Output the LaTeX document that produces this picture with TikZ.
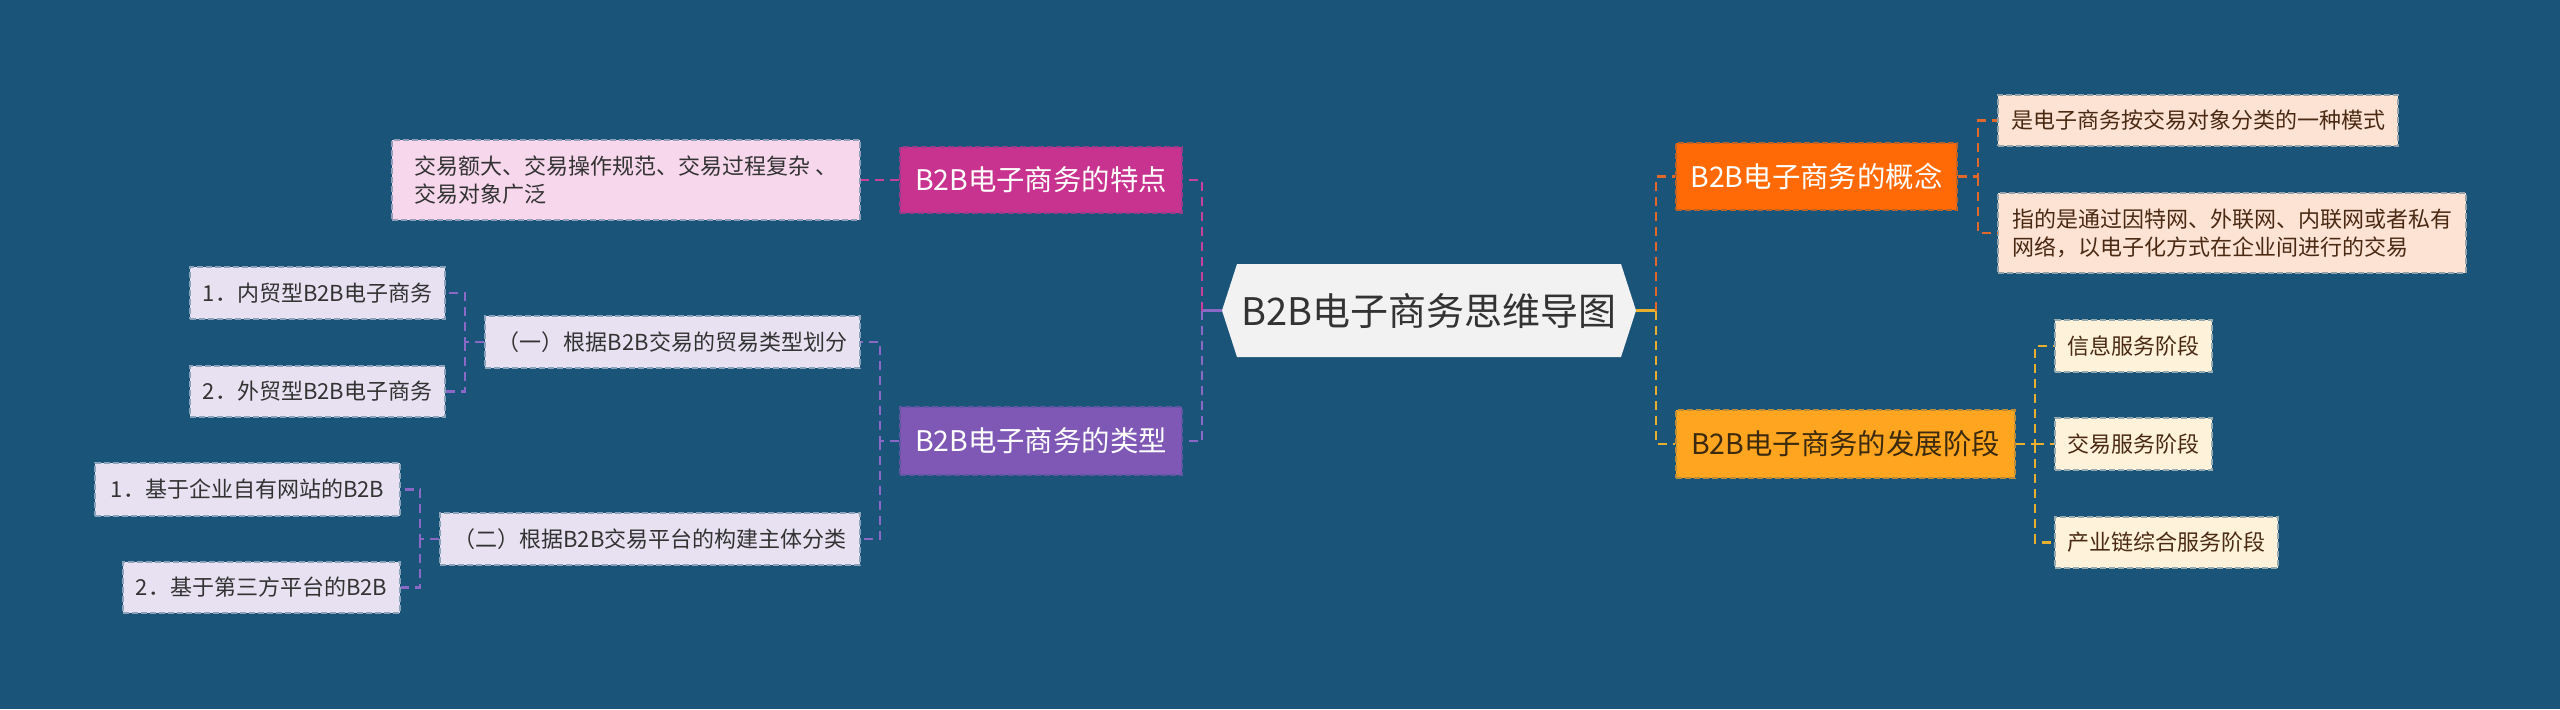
\documentclass[tikz,border=0pt]{standalone}
\usepackage{fontspec}
\newfontfamily\cjk{Noto Sans CJK SC}
\usetikzlibrary{calc}
\definecolor{bg}{HTML}{1A5479}
\definecolor{rootfill}{HTML}{F2F2F2}
\definecolor{roottext}{HTML}{333333}
\definecolor{conceptfill}{HTML}{FF6A06}
\definecolor{devfill}{HTML}{FFA51F}
\definecolor{featfill}{HTML}{C8338F}
\definecolor{typefill}{HTML}{7F57B5}
\definecolor{cleaf}{HTML}{FDE3D3}
\definecolor{dleaf}{HTML}{FEF2DA}
\definecolor{fleaf}{HTML}{F6D7EC}
\definecolor{tleaf}{HTML}{E7E1F1}
\definecolor{lineO}{HTML}{E0692A}
\definecolor{lineY}{HTML}{E8AE2E}
\definecolor{lineM}{HTML}{C8409A}
\definecolor{lineP}{HTML}{8A68C6}
\definecolor{brownT}{HTML}{4A2A14}
\definecolor{devT}{HTML}{3B2A0E}
\tikzset{
  boxbase/.style={rectangle, inner sep=0pt, align=left, line width=0.6pt, dash pattern=on 3pt off 1.5pt},
  mainbox/.style={boxbase, font=\cjk\fontsize{14.2pt}{17pt}\selectfont},
  leafbox/.style={boxbase, font=\cjk\fontsize{11pt}{14pt}\selectfont},
  conceptbox/.style={mainbox, fill=conceptfill, draw=conceptfill!70!bg, text=white},
  devbox/.style={mainbox, fill=devfill, draw=devfill!70!bg, text=devT},
  featbox/.style={mainbox, fill=featfill, draw=featfill!70!bg, text=white},
  typebox/.style={mainbox, fill=typefill, draw=typefill!70!bg, text=white},
  cleafbox/.style={leafbox, fill=cleaf, draw=cleaf!55!bg, text=brownT},
  dleafbox/.style={leafbox, fill=dleaf, draw=dleaf!55!bg, text=brownT},
  fleafbox/.style={leafbox, fill=fleaf, draw=fleaf!55!bg, text=roottext},
  tleafbox/.style={leafbox, fill=tleaf, draw=tleaf!55!bg, text=roottext},
  conn/.style={line width=1.4pt, dash pattern=on 4.5pt off 3pt},
  connO/.style={conn, draw=lineO},
  connY/.style={conn, draw=lineY},
  connM/.style={conn, draw=lineM},
  connP/.style={conn, draw=lineP},
  tick/.style={line width=1.4pt, solid}
}
\begin{document}
\begin{tikzpicture}[x=0.5pt,y=-0.5pt]
\fill[bg] (0,0) rectangle (2560,709);
\useasboundingbox (0,0) rectangle (2560,709);

% central node
\fill[rootfill] (1237,264) -- (1621,264) -- (1636,310.5) -- (1621,357) -- (1237,357) -- (1222,310.5) -- cycle;
\node[inner sep=0pt, minimum width=192pt, minimum height=46.5pt, text=roottext, font=\cjk\fontsize{19pt}{22pt}\selectfont] (root) at (1429,310.5) {B2B电子商务思维导图};
\coordinate (rootL) at (1222,310.5);
\coordinate (rootR) at (1636,310.5);
\coordinate (trL) at (1202,310.5);
\coordinate (trR) at (1656,310.5);

% right side
\node[conceptbox, minimum width=140.5pt, minimum height=33.5pt] (concept) at (1816.5,176.5) {B2B电子商务的概念};
\node[devbox, minimum width=169.5pt, minimum height=34pt] (dev) at (1845.5,444) {B2B电子商务的发展阶段};
\node[cleafbox, minimum width=200pt, minimum height=25.5pt] (c1) at (2198,120.5) {是电子商务按交易对象分类的一种模式};
\node[cleafbox, minimum width=234pt, minimum height=40pt] (c2) at (2232,233) {指的是通过因特网、外联网、内联网或者私有\\网络，以电子化方式在企业间进行的交易};
\node[dleafbox, minimum width=78.5pt, minimum height=26pt] (d1) at (2133.5,346) {信息服务阶段};
\node[dleafbox, minimum width=78.5pt, minimum height=26pt] (d2) at (2133.5,444) {交易服务阶段};
\node[dleafbox, minimum width=111.5pt, minimum height=25.5pt] (d3) at (2166.5,542.5) {产业链综合服务阶段};

% left side
\node[featbox, minimum width=141pt, minimum height=33pt] (feat) at (1041,180) {B2B电子商务的特点};
\node[typebox, minimum width=141pt, minimum height=34pt] (types) at (1041,441) {B2B电子商务的类型};
\node[fleafbox, minimum width=234pt, minimum height=40pt] (f1) at (626,180) {交易额大、交易操作规范、交易过程复杂 、\\交易对象广泛};
\node[tleafbox, minimum width=187.5pt, minimum height=26pt] (t1) at (672.5,342) {（一）根据B2B交易的贸易类型划分};
\node[tleafbox, minimum width=210pt, minimum height=26pt] (t2) at (650,539) {（二）根据B2B交易平台的构建主体分类};
\node[tleafbox, minimum width=127.5pt, minimum height=26pt] (t11) at (317.5,293) {1．内贸型B2B电子商务};
\node[tleafbox, minimum width=127.5pt, minimum height=25.5pt] (t12) at (317.5,391.5) {2．外贸型B2B电子商务};
\node[tleafbox, minimum width=152.5pt, minimum height=26.5pt] (t21) at (247.5,489.5) {1．基于企业自有网站的B2B};
\node[tleafbox, minimum width=138.5pt, minimum height=25.5pt] (t22) at (261.5,587.5) {2．基于第三方平台的B2B};

% junctions
\coordinate (cJ) at (1978,176.5);
\coordinate (dJ) at (2035,444);
\coordinate (tJ) at (880,441);
\coordinate (t1J) at (465,342);
\coordinate (t2J) at (420,539);

% connectors right
\draw[tick, lineY] (rootR) -- (trR);
\draw[connO] (trR) |- (concept.west);
\draw[connY] (trR) |- (dev.west);
\draw[connO] (concept.east) -- (cJ) |- (c1.west);
\draw[connO] (cJ) |- (c2.west);
\draw[connY] (dev.east) -- (dJ) |- (d1.west);
\draw[connY] (dJ) -- (d2.west);
\draw[connY] (dJ) |- (d3.west);

% connectors left
\draw[tick, lineP] (rootL) -- (trL);
\draw[connM] (trL) |- (feat.east);
\draw[connP] (trL) |- (types.east);
\draw[connM] (feat.west) -- (f1.east);
\draw[connP] (types.west) -- (tJ) |- (t1.east);
\draw[connP] (tJ) |- (t2.east);
\draw[connP] (t1.west) -- (t1J) |- (t11.east);
\draw[connP] (t1J) |- (t12.east);
\draw[connP] (t2.west) -- (t2J) |- (t21.east);
\draw[connP] (t2J) |- (t22.east);
\end{tikzpicture}
\end{document}
